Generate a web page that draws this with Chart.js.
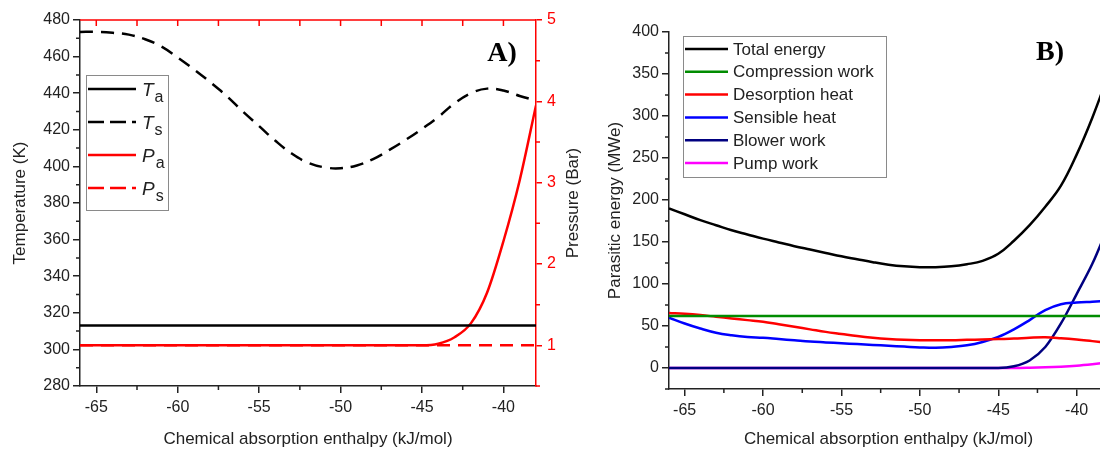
<!DOCTYPE html>
<html>
<head>
<meta charset="utf-8">
<script src="https://cdn.jsdelivr.net/npm/chart.js@4.4.1/dist/chart.umd.min.js"></script>
<style>
  html, body { margin: 0; padding: 0; background: #fff; overflow: hidden; width: 1100px; height: 450px; }
  #panelA { position: absolute; left: 0; top: 0; }
  #panelB { position: absolute; left: 590px; top: 0; }
</style>
</head>
<body>
<canvas id="panelA" width="600" height="450"></canvas>
<canvas id="panelB" width="530" height="450"></canvas>
<script>
// enthalpy steps (kJ/mol), -66 .. -38
const enthalpy = [-66, -65, -64, -63, -62, -61, -60, -59, -58, -57, -56, -55, -54, -53, -52,
                  -51, -50, -49, -48, -47, -46, -45, -44, -43, -42, -41, -40, -39, -38];
const enthalpyEnds = [-66, -38];

// panel A
const tempA = [313, 313];
const tempS = [473.5, 473.5, 473, 472, 469.5, 465.5, 459.5, 453, 446, 438.5, 430, 422, 414, 407, 402,
               399.5, 399, 400.5, 404, 409, 414.5, 420.5, 427, 434.5, 440, 442.5, 441.5, 438.5, 436];
const pressA = [1, 1, 1, 1, 1, 1, 1, 1, 1, 1, 1, 1, 1, 1, 1,
                1, 1, 1, 1, 1, 1, 1, 1.02, 1.1, 1.27, 1.65, 2.28, 3.03, 3.95];
const pressS = [1, 1];

// panel B (MWe)
const totalEnergy = [190, 183, 176, 170, 164, 159, 154, 149.5, 145, 141, 137, 133, 129.5, 126, 123,
                     121, 120, 120, 121, 123.5, 127.5, 136, 151.5, 170, 192, 217, 254, 298, 348];
const compressionWork = [62, 62];
const desorptionHeat = [65.5, 64.5, 63, 61, 59, 57, 55, 52, 49, 46, 43, 40.5, 38, 36, 34.5,
                        33.5, 33, 33, 33, 33.5, 34, 34.5, 35, 36, 36.5, 35.5, 34, 32, 30];
const sensibleHeat = [60, 53, 47, 42, 39, 37, 36, 34.5, 33, 31.5, 30.5, 29.5, 28.5, 27.5, 26.5,
                      25.5, 24.5, 24, 25, 27, 31, 37, 46, 57, 69, 76, 78, 79, 80];
const blowerWork = [0, 0, 0, 0, 0, 0, 0, 0, 0, 0, 0, 0, 0, 0, 0,
                    0, 0, 0, 0, 0, 0, 0, 2, 9, 25, 53, 88, 124, 168];
const pumpWork = [0, 0, 0, 0, 0, 0, 0, 0, 0, 0, 0, 0, 0, 0, 0,
                  0, 0, 0, 0, 0, 0, 0, 0, 0.3, 0.8, 1.6, 2.8, 4.5, 6.5];

function pts(xs, ys) {
  return xs.map((x, i) => ({ x: x, y: ys[i] }));
}

Chart.defaults.font.family = "'Liberation Sans', Arial, sans-serif";
Chart.defaults.color = '#222';
const INK = '#222';

// small ticks between the labelled ones
const minorTicks = {
  id: 'minorTicks',
  afterDraw(chart, args, opts) {
    const ctx = chart.ctx;
    const a = chart.chartArea;
    for (const id in opts.steps) {
      const s = chart.scales[id];
      const step = opts.steps[id];
      ctx.save();
      ctx.strokeStyle = s.options.border.color;
      ctx.lineWidth = 1.5;
      ctx.beginPath();
      for (let v = Math.ceil(s.min / step) * step; v <= s.max + 1e-9; v += step) {
        const r = v / (step * 2);
        if (Math.abs(r - Math.round(r)) < 1e-6) continue;
        const p = s.getPixelForValue(v);
        if (s.position === 'left') { ctx.moveTo(a.left, p); ctx.lineTo(a.left - 4, p); }
        else if (s.position === 'right') { ctx.moveTo(a.right, p); ctx.lineTo(a.right + 4, p); }
        else { ctx.moveTo(p, a.bottom); ctx.lineTo(p, a.bottom + 4); }
      }
      ctx.stroke();
      ctx.restore();
    }
  }
};

// red top frame of panel A with inward ticks, and the right-hand title read bottom to top
const topFrame = {
  id: 'topFrame',
  afterDraw(chart, args, opts) {
    if (!opts.color) return;
    const ctx = chart.ctx;
    const a = chart.chartArea;
    const xs = chart.scales.x;
    ctx.save();
    ctx.strokeStyle = opts.color;
    ctx.lineWidth = 1.5;
    ctx.beginPath();
    ctx.moveTo(a.left, a.top);
    ctx.lineTo(a.right, a.top);
    for (let v = -65; v <= -38; v += 2.5) {
      const p = xs.getPixelForValue(v);
      ctx.moveTo(p, a.top);
      ctx.lineTo(p, a.top + 6);
    }
    ctx.stroke();

    ctx.translate(opts.titleX, (a.top + a.bottom) / 2);
    ctx.rotate(-Math.PI / 2);
    ctx.font = "17px 'Liberation Sans', Arial, sans-serif";
    ctx.fillStyle = INK;
    ctx.textAlign = 'center';
    ctx.textBaseline = 'middle';
    ctx.fillText(opts.title, 0, 0);
    ctx.restore();
  }
};

// legend box inside the plot, labels like "T_a" get an italic letter and a subscript
const boxLegend = {
  id: 'boxLegend',
  afterDraw(chart, args, o) {
    if (!o.box) return;
    const ctx = chart.ctx;
    ctx.save();
    ctx.strokeStyle = '#8a8a8a';
    ctx.lineWidth = 1;
    ctx.strokeRect(o.box[0] + 0.5, o.box[1] + 0.5, o.box[2], o.box[3]);
    chart.data.datasets.forEach((ds, i) => {
      const y = o.box[1] + o.first + i * o.gap;
      const x0 = o.box[0] + 2;
      ctx.strokeStyle = ds.borderColor;
      ctx.lineWidth = 2.5;
      ctx.setLineDash(ds.borderDash ? o.dash : []);
      ctx.beginPath();
      ctx.moveTo(x0, y);
      ctx.lineTo(x0 + o.sample, y);
      ctx.stroke();
      ctx.setLineDash([]);
      ctx.fillStyle = INK;
      const tx = x0 + o.sample + o.textGap;
      const parts = ds.label.split('_');
      if (parts.length === 2) {
        ctx.textBaseline = 'alphabetic';
        ctx.font = "italic 19px 'Liberation Sans', Arial, sans-serif";
        ctx.fillText(parts[0], tx, y + 7);
        const w = ctx.measureText(parts[0]).width;
        ctx.font = "16px 'Liberation Sans', Arial, sans-serif";
        ctx.fillText(parts[1], tx + w + 1, y + 13);
      } else {
        ctx.textBaseline = 'middle';
        ctx.font = "17px 'Liberation Sans', Arial, sans-serif";
        ctx.fillText(ds.label, tx, y + 1);
      }
    });
    ctx.restore();
  }
};

const panelLabel = {
  id: 'panelLabel',
  afterDraw(chart, args, o) {
    if (!o.text) return;
    const ctx = chart.ctx;
    ctx.save();
    ctx.font = "bold 28px 'Liberation Serif', 'Times New Roman', serif";
    ctx.fillStyle = '#000';
    ctx.textAlign = 'center';
    ctx.textBaseline = 'middle';
    ctx.fillText(o.text, o.x, o.y);
    ctx.restore();
  }
};

function xAxis(height) {
  return {
    type: 'linear', min: -66, max: -38, position: 'bottom',
    ticks: { stepSize: 5, includeBounds: false, padding: 5, font: { size: 16 }, color: INK },
    grid: { drawOnChartArea: false, tickLength: 7, color: INK, lineWidth: 1.5 },
    border: { color: INK, width: 1.5 },
    title: { display: true, text: 'Chemical absorption enthalpy (kJ/mol)', font: { size: 17 },
             color: INK, padding: { top: 0, bottom: 0 } },
    afterFit: s => { s.height = height; }
  };
}

const line = { pointRadius: 0, borderWidth: 2.5, fill: false, cubicInterpolationMode: 'monotone' };
const smooth = { pointRadius: 0, borderWidth: 2.5, fill: false, tension: 0.4 };

new Chart(document.getElementById('panelA'), {
  type: 'line',
  data: {
    datasets: [
      { ...line, label: 'T_a', data: pts(enthalpyEnds, tempA), borderColor: '#000', yAxisID: 'y' },
      { ...smooth, label: 'T_s', data: pts(enthalpy, tempS), borderColor: '#000', borderDash: [13, 8], yAxisID: 'y' },
      { ...line, label: 'P_a', data: pts(enthalpy, pressA), borderColor: '#ff0000', yAxisID: 'y2' },
      { ...line, label: 'P_s', data: pts(enthalpyEnds, pressS), borderColor: '#ff0000', borderDash: [13, 8], yAxisID: 'y2' }
    ]
  },
  options: {
    responsive: false,
    animation: false,
    layout: { padding: { top: 20, left: 0, right: 0, bottom: 0 } },
    plugins: {
      legend: { display: false },
      tooltip: { enabled: false },
      minorTicks: { steps: { x: 2.5, y: 10, y2: 0.5 } },
      topFrame: { color: '#ff0000', title: 'Pressure (Bar)', titleX: 573 },
      boxLegend: { box: [86, 75, 82, 135], first: 14, gap: 33, sample: 48, textGap: 6, dash: [16, 6] },
      panelLabel: { text: 'A)', x: 502, y: 54 }
    },
    scales: {
      x: xAxis(64),
      y: {
        min: 280, max: 480, position: 'left',
        ticks: { stepSize: 20, padding: 3, font: { size: 16 }, color: INK },
        grid: { drawOnChartArea: false, tickLength: 7, color: INK, lineWidth: 1.5 },
        border: { color: INK, width: 1.5 },
        title: { display: true, text: 'Temperature (K)', font: { size: 17 }, color: INK, padding: { top: 10, bottom: 0 } },
        afterFit: s => { s.width = 80; }
      },
      y2: {
        min: 0.5, max: 5, position: 'right',
        ticks: { stepSize: 1, includeBounds: false, padding: 5, font: { size: 16 }, color: '#ff0000' },
        grid: { drawOnChartArea: false, tickLength: 6, color: '#ff0000', lineWidth: 1.5 },
        border: { color: '#ff0000', width: 1.5 },
        afterFit: s => { s.width = 64; }
      }
    }
  },
  plugins: [minorTicks, topFrame, boxLegend, panelLabel]
});

new Chart(document.getElementById('panelB'), {
  type: 'line',
  data: {
    datasets: [
      { ...smooth, label: 'Total energy', data: pts(enthalpy, totalEnergy), borderColor: '#000000' },
      { ...line, label: 'Compression work', data: pts(enthalpyEnds, compressionWork), borderColor: '#008c00' },
      { ...smooth, label: 'Desorption heat', data: pts(enthalpy, desorptionHeat), borderColor: '#ff0000' },
      { ...smooth, label: 'Sensible heat', data: pts(enthalpy, sensibleHeat), borderColor: '#0000ff' },
      { ...line, label: 'Blower work', data: pts(enthalpy, blowerWork), borderColor: '#000080' },
      { ...line, label: 'Pump work', data: pts(enthalpy, pumpWork), borderColor: '#ff00ff' }
    ]
  },
  options: {
    responsive: false,
    animation: false,
    layout: { padding: { top: 32, left: 0, right: 12, bottom: 0 } },
    plugins: {
      legend: { display: false },
      tooltip: { enabled: false },
      minorTicks: { steps: { x: 2.5, y: 25 } },
      boxLegend: { box: [93, 36, 203, 141], first: 13, gap: 22.8, sample: 43, textGap: 5, dash: [] },
      panelLabel: { text: 'B)', x: 460, y: 53 }
    },
    scales: {
      x: xAxis(61),
      y: {
        min: -25, max: 400, position: 'left',
        ticks: { stepSize: 50, includeBounds: false, padding: 3, font: { size: 16 }, color: INK },
        grid: { drawOnChartArea: false, tickLength: 7, color: INK, lineWidth: 1.5 },
        border: { color: INK, width: 1.5 },
        title: { display: true, text: 'Parasitic energy (MWe)', font: { size: 17 }, color: INK, padding: { top: 15, bottom: 0 } },
        afterFit: s => { s.width = 79; }
      }
    }
  },
  plugins: [minorTicks, boxLegend, panelLabel]
});
</script>
</body>
</html>
